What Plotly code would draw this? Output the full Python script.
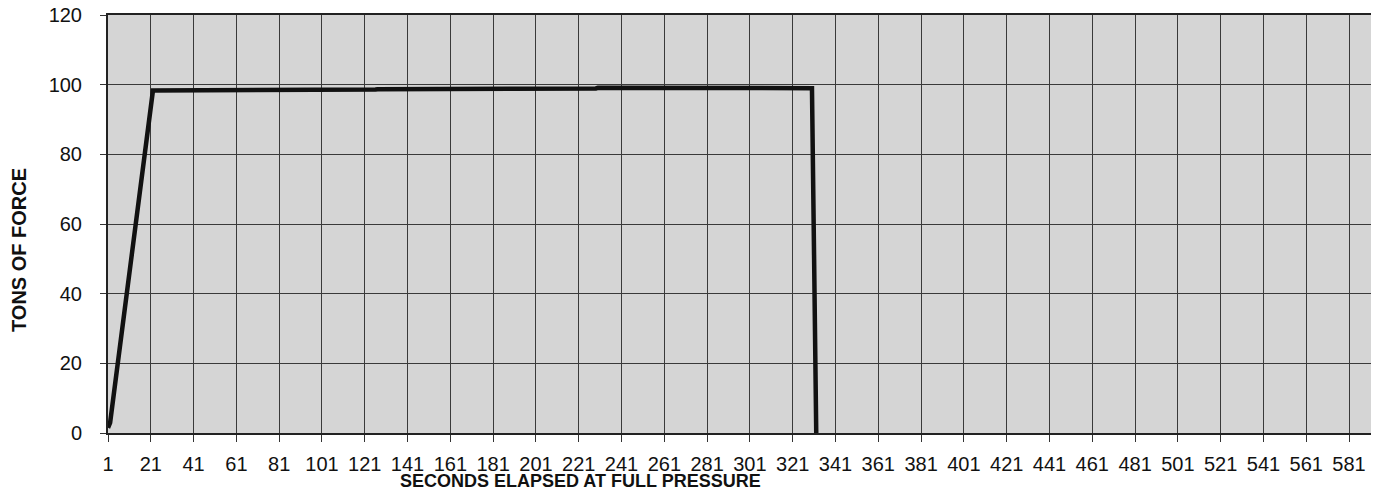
import plotly.graph_objects as go

# Data
seconds = [1, 2, 22, 47, 48, 67, 68, 111, 112, 126, 127, 162, 163, 191, 192, 229, 230, 330, 331, 332]
tons = [1.5, 3.0, 98.3, 98.3, 98.4, 98.4, 98.5, 98.5, 98.6, 98.6, 98.7, 98.7, 98.8, 98.8, 98.9, 98.9, 99.1, 99.0, 50.0, 0.0]

x_ticks = list(range(1, 582, 20))
y_ticks = list(range(0, 121, 20))

fig = go.Figure()
fig.add_trace(go.Scatter(
    x=seconds, y=tons, mode="lines",
    line=dict(color="#111111", width=4.5),
    showlegend=False, hoverinfo="skip",
))

# page body has an ~8px margin, so the figure is sized to fit inside the window
W, H = 1371, 487
L, R, T, B = 100, 0, 7, 62
pw, ph = W - L - R, H - T - B

fig.update_layout(
    width=W, height=H,
    margin=dict(l=L, r=R, t=T, b=B, autoexpand=False),
    paper_bgcolor="white",
    plot_bgcolor="#d5d5d5",
    font=dict(family="Liberation Sans, Arial, sans-serif", size=20, color="#111111"),
    xaxis=dict(
        range=[1, 595], tickvals=x_ticks, ticktext=[str(v) for v in x_ticks],
        showgrid=True, gridcolor="#3a3a3a", gridwidth=1,
        showline=True, linecolor="#222222", linewidth=2, mirror=True,
        ticks="outside", ticklen=7, tickcolor="#333333",
        zeroline=False, tickfont=dict(size=20), ticklabelstandoff=5,
        automargin=False,
    ),
    yaxis=dict(
        range=[0, 120], tickvals=y_ticks,
        showgrid=True, gridcolor="#3a3a3a", gridwidth=1,
        showline=True, linecolor="#222222", linewidth=2,
        ticks="outside", ticklen=6, tickcolor="#333333",
        zeroline=False, tickfont=dict(size=20), ticklabelstandoff=14,
        ticklabeloverflow="allow", automargin=False,
    ),
    annotations=[
        dict(text="<b>SECONDS ELAPSED AT FULL PRESSURE</b>", xref="paper", yref="paper",
             x=(572 - L) / pw, y=(T + ph - 473) / ph, xanchor="center", yanchor="middle",
             showarrow=False, font=dict(size=18, color="#111111")),
        dict(text="<b>TONS OF FORCE</b>", xref="paper", yref="paper",
             x=(11 - L) / pw, y=(T + ph - 242) / ph, xanchor="center", yanchor="middle",
             textangle=-90, showarrow=False, font=dict(size=20, color="#111111")),
    ],
)

fig.write_html("out.html")
